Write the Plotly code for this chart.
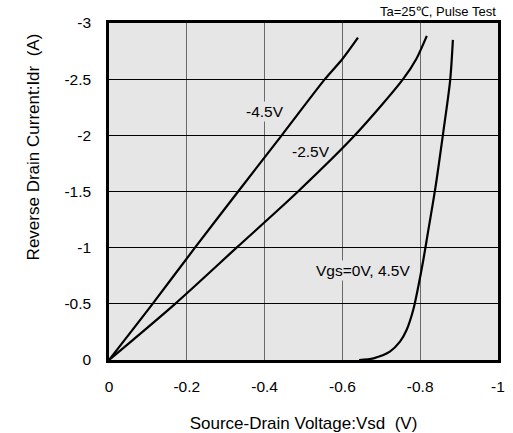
import plotly.graph_objects as go

# Reverse drain current vs source-drain voltage, per gate voltage
vsd_m45 = [0, -0.112, -0.221, -0.332, -0.444, -0.555, -0.60, -0.64]
idr_m45 = [0, -0.5, -1.0, -1.5, -2.0, -2.5, -2.68, -2.87]

vsd_m25 = [0, -0.17, -0.328, -0.486, -0.632, -0.756, -0.79, -0.817]
idr_m25 = [0, -0.5, -1.0, -1.5, -2.0, -2.5, -2.68, -2.885]

vsd_0 = [-0.643, -0.68, -0.722, -0.748, -0.765, -0.782, -0.795, -0.808, -0.821,
         -0.834, -0.842, -0.859, -0.877, -0.884]
idr_0 = [0, -0.015, -0.074, -0.163, -0.267, -0.445, -0.653, -0.89, -1.158,
         -1.425, -1.60, -2.02, -2.49, -2.85]

x_ticks = [0, -0.2, -0.4, -0.6, -0.8, -1]
x_tick_text = ["0", "-0.2", "-0.4", "-0.6", "-0.8", "-1"]
y_ticks = [0, -0.5, -1, -1.5, -2, -2.5, -3]
y_tick_text = ["0", "-0.5", "-1", "-1.5", "-2", "-2.5", "-3"]

FONT = "Liberation Sans, Arial, sans-serif"
BG = "#e6e6e6"

fig = go.Figure()
for xs, ys in [(vsd_m45, idr_m45), (vsd_m25, idr_m25), (vsd_0, idr_0)]:
    fig.add_trace(go.Scatter(x=xs, y=ys, mode="lines",
                             line=dict(color="black", width=2.2, shape="spline", smoothing=0.8),
                             showlegend=False, hoverinfo="skip"))

# curve labels; the ones sitting on a gridline get a background box
labels = [("-4.5V", -0.40, -2.21, BG), ("-2.5V", -0.52, -1.86, None),
          ("Vgs=0V, 4.5V", -0.652, -0.80, BG)]
for text, x, y, bg in labels:
    fig.add_annotation(x=x, y=y, text=text, showarrow=False, bgcolor=bg,
                       font=dict(family=FONT, size=15.5, color="black"), borderpad=1)

fig.add_annotation(x=1, xref="paper", y=1, yref="paper", yshift=2, text="Ta=25\u2103, Pulse Test",
                   showarrow=False, xanchor="right", yanchor="bottom",
                   font=dict(family=FONT, size=13, color="black"))

# y-axis title placed as a rotated annotation
fig.add_annotation(x=-0.224, xref="paper", y=0.632, yref="paper",
                   text="Reverse Drain Current:Idr  (A)", textangle=-90, showarrow=False,
                   font=dict(family=FONT, size=17, color="black"))

fig.update_xaxes(range=[0, -1], tickvals=x_ticks, ticktext=x_tick_text, automargin=False,
                 showgrid=True, gridcolor="#6a6a6a", gridwidth=1.3, zeroline=False,
                 showline=True, linecolor="black", linewidth=2.5, mirror=True,
                 ticks="", ticklabelstandoff=11,
                 tickfont=dict(family=FONT, size=15.5, color="black"),
                 title=dict(text="Source-Drain Voltage:Vsd  (V)", standoff=25,
                            font=dict(family=FONT, size=17, color="black")))
fig.update_yaxes(range=[0, -3], tickvals=y_ticks, ticktext=y_tick_text, automargin=False,
                 showgrid=True, gridcolor="black", gridwidth=1, zeroline=False,
                 showline=True, linecolor="black", linewidth=2.5, mirror=True,
                 ticks="", ticklabelstandoff=12,
                 tickfont=dict(family=FONT, size=15.5, color="black"))

fig.update_layout(width=513, height=433, paper_bgcolor="white", plot_bgcolor=BG,
                  margin=dict(l=109, r=15, t=23, b=73, autoexpand=False))

fig.write_html("out.html")
